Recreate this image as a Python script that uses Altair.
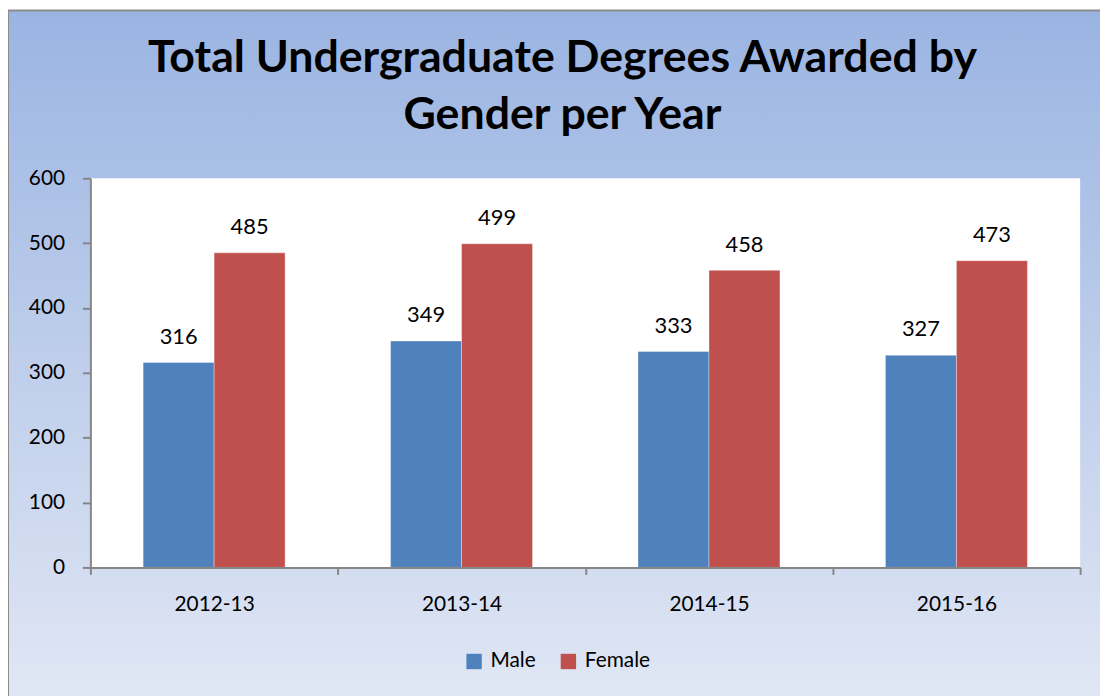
import altair as alt
import pandas as pd

years = ["2012-13", "2013-14", "2014-15", "2015-16"]
male = [316, 349, 333, 327]
female = [485, 499, 458, 473]
genders = ["Male", "Female"]
colors = ["#4F81BD", "#C0504D"]

rows = []
for i, y in enumerate(years):
    rows.append({"year": y, "gender": "Male", "value": male[i]})
    rows.append({"year": y, "gender": "Female", "value": female[i]})
df = pd.DataFrame(rows)

W, H = 997, 392
PAD = {"left": 83, "top": 169, "right": 20, "bottom": 127}
FONT = "Lato"

one = alt.Data(values=[{"a": 1}])

bg = alt.Chart(one).mark_rect(
    fill=alt.Gradient(
        gradient="linear",
        stops=[alt.GradientStop(color="#9AB4E2", offset=0),
               alt.GradientStop(color="#E1E7F4", offset=1)],
        x1=0, x2=0, y1=0, y2=1,
    ),
    stroke="#8C8C8C", strokeWidth=2,
).encode(
    x=alt.value(-PAD["left"]), x2=alt.value(W + PAD["right"] + 10),
    y=alt.value(-PAD["top"]), y2=alt.value(H + PAD["bottom"] + 10),
)

plotbg = alt.Chart(one).mark_rect(fill="white").encode(
    x=alt.value(0), x2=alt.value(W), y=alt.value(0), y2=alt.value(H)
)

xenc = alt.X(
    "year:N", sort=years, title=None,
    scale=alt.Scale(paddingInner=0, paddingOuter=0),
    axis=alt.Axis(labelAngle=0, labelFontSize=21, labelFont=FONT, labelColor="black",
                  labelPadding=19, tickBand="extent", tickSize=7, tickColor="#868686",
                  domainColor="#868686", domainWidth=2, tickWidth=2, zindex=1),
)
xoff = alt.XOffset("gender:N", sort=genders,
                   scale=alt.Scale(paddingInner=0, paddingOuter=0.743))
yenc = alt.Y(
    "value:Q", title=None,
    scale=alt.Scale(domain=[0, 600]),
    axis=alt.Axis(values=[0, 100, 200, 300, 400, 500, 600], grid=False,
                  labelFontSize=21, labelFont=FONT, labelColor="black", labelPadding=18,
                  tickSize=8, tickColor="#868686", tickWidth=2,
                  domainColor="#868686", domainWidth=2, zindex=1),
)

bars = alt.Chart(df).mark_bar(stroke="white", strokeOpacity=0.35, strokeWidth=1).encode(
    x=xenc, xOffset=xoff, y=yenc,
    color=alt.Color(
        "gender:N", sort=genders, title=None,
        scale=alt.Scale(domain=genders, range=colors),
        legend=alt.Legend(orient="none", direction="horizontal", legendX=376, legendY=476,
                          symbolType="square", symbolSize=240, symbolStrokeWidth=0,
                          labelFontSize=21, labelFont=FONT, labelColor="black",
                          columnPadding=22, labelOffset=6, padding=0, zindex=1),
    ),
)

labels = alt.Chart(df).mark_text(
    fontSize=22, font=FONT, color="black", baseline="alphabetic", dy=-19
).encode(x=xenc, xOffset=xoff, y=yenc, text="value:Q")

chart = alt.layer(bg, plotbg, bars, labels).properties(
    width=W, height=H,
    padding=PAD,
    autosize="none",
    title=alt.TitleParams(
        text=["Total Undergraduate Degrees Awarded by", "Gender per Year"],
        font=FONT, fontSize=45, fontWeight="bold", color="black",
        anchor="middle", frame="group", lineHeight=57, dx=-23, offset=0, dy=129,
        zindex=1,
    ),
).configure_view(stroke=None)

chart.save("out.html", embed_options={"renderer": "svg", "actions": False})
